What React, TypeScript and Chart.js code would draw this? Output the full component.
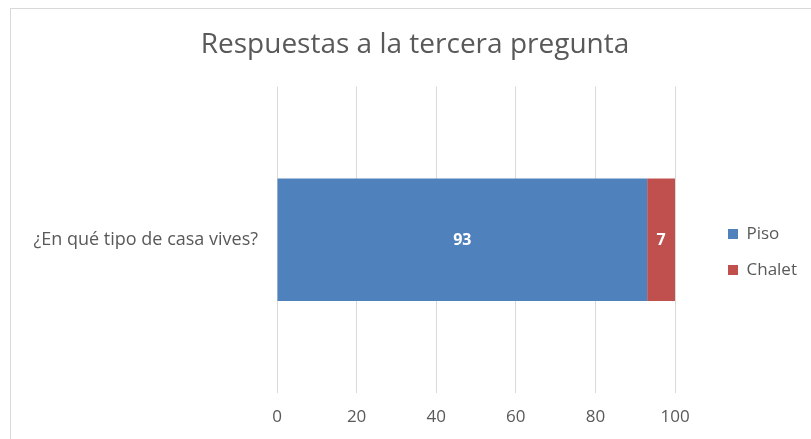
import React, { useEffect, useRef } from "react";
import { Chart, registerables } from "chart.js";

Chart.register(...registerables);

const categories = ["¿En qué tipo de casa vives?"];
const seriesNames = ["Piso", "Chalet"];
const pisoValues = [93];
const chaletValues = [7];
const seriesColors = ["#4F81BD", "#C0504D"];
const titleText = "Respuestas a la tercera pregunta";
const xMin = 0;
const xMax = 100;
const xStep = 20;

const FONT = "'Open Sans', sans-serif";
const GREY = "#595959";
const LEGEND_PAD = 19;

const borderPlugin = {
  id: "outerBorder",
  beforeDraw(chart: any) {
    const ctx = chart.ctx;
    ctx.save();
    ctx.fillStyle = "#ffffff";
    ctx.fillRect(0, 0, chart.width, chart.height);
    ctx.strokeStyle = "#d9d9d9";
    ctx.lineWidth = 1;
    ctx.strokeRect(10.5, 8.5, chart.width + 10, chart.height + 10);
    ctx.restore();
  },
};

const boxShift = {
  id: "boxShift",
  afterUpdate(chart: any) {
    const l = chart.legend;
    if (l) {
      const dx = 728 - LEGEND_PAD - l.left;
      l.left += dx;
      l.right += dx;
      l.top = 87;
      l.bottom = 417;
      l.height = l.bottom - l.top;
      if (l.adjustHitBoxes) l.adjustHitBoxes();
    }
    const t = chart.titleBlock;
    if (t) {
      t.left = 10;
      t.right = 820;
      t.width = t.right - t.left;
    }
  },
};

const valueLabels = {
  id: "valueLabels",
  afterDatasetsDraw(chart: any) {
    const ctx = chart.ctx;
    ctx.save();
    ctx.fillStyle = "#ffffff";
    ctx.font = `bold 16px ${FONT}`;
    ctx.textAlign = "center";
    ctx.textBaseline = "middle";
    chart.data.datasets.forEach((ds: any, di: number) => {
      const meta = chart.getDatasetMeta(di);
      meta.data.forEach((bar: any, i: number) => {
        const v = ds.data[i];
        const cx = (bar.x + bar.base) / 2;
        ctx.fillText(String(v), cx, bar.y + 1);
      });
    });
    ctx.restore();
  },
};

export default function App() {
  const ref = useRef<HTMLCanvasElement | null>(null);
  useEffect(() => {
    document.body.style.margin = "0";
    const canvas = ref.current!;
    const chart = new Chart(canvas, {
      type: "bar",
      data: {
        labels: categories,
        datasets: [
          { label: seriesNames[0], data: pisoValues, backgroundColor: seriesColors[0], borderWidth: 0 },
          { label: seriesNames[1], data: chaletValues, backgroundColor: seriesColors[1], borderWidth: 0 },
        ],
      },
      options: {
        indexAxis: "y",
        responsive: false,
        animation: false,
        maintainAspectRatio: false,
        layout: { padding: { top: 20, left: 10, right: 38, bottom: 0 } },
        datasets: { bar: { categoryPercentage: 1, barPercentage: 0.4 } },
        scales: {
          x: {
            stacked: true,
            min: xMin,
            max: xMax,
            ticks: { stepSize: xStep, color: GREY, font: { family: FONT, size: 17 }, padding: 14 },
            grid: { color: "#d9d9d9", drawTicks: false },
            border: { display: false },
            afterFit(scale: any) {
              scale.height = 46;
            },
          },
          y: {
            stacked: true,
            ticks: { color: GREY, font: { family: FONT, size: 18 }, padding: 19 },
            grid: { display: false, drawTicks: false },
            border: { display: false },
            afterFit(scale: any) {
              scale.width = 267;
            },
          },
        },
        plugins: {
          title: {
            display: true,
            text: titleText,
            color: GREY,
            font: { family: FONT, size: 28, weight: "normal" },
            padding: { top: 8, bottom: 25 },
          },
          legend: {
            position: "right",
            labels: {
              boxWidth: 10,
              boxHeight: 10,
              padding: LEGEND_PAD,
              color: GREY,
              font: { family: FONT, size: 17 },
            },
          },
          tooltip: { enabled: false },
        },
      },
      plugins: [borderPlugin, boxShift, valueLabels],
    } as any);
    return () => chart.destroy();
  }, []);
  return <canvas ref={ref} width={811} height={439} style={{ display: "block" }} />;
}
